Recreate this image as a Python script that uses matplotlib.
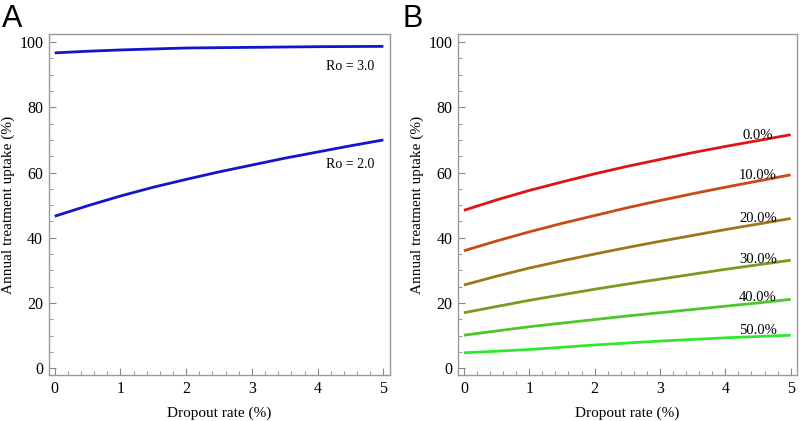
import matplotlib
matplotlib.use("Agg")
import matplotlib.pyplot as plt
from matplotlib.ticker import MultipleLocator

plt.rcParams['font.family'] = ['Liberation Serif', 'DejaVu Serif']

# ---- data ----
dropout = [0, 0.5, 1, 1.5, 2, 2.5, 3, 3.5, 4, 4.5, 5]
ro3 = [96.7, 97.2, 97.6, 97.9, 98.2, 98.3, 98.4, 98.5, 98.6, 98.65, 98.7]
ro2 = [46.6, 49.8, 52.8, 55.5, 57.9, 60.2, 62.3, 64.4, 66.3, 68.2, 70.0]
ro_labels = ["Ro = 3.0", "Ro = 2.0"]

series_B = {
    "0.0%": [48.4, 51.6, 54.5, 57.1, 59.6, 61.9, 64.0, 66.1, 68.0, 69.8, 71.6],
    "10.0%": [36.0, 39.0, 41.8, 44.4, 46.8, 49.2, 51.4, 53.5, 55.5, 57.4, 59.3],
    "20.0%": [25.5, 28.2, 30.7, 32.9, 35.0, 37.0, 38.9, 40.7, 42.5, 44.2, 45.9],
    "30.0%": [17.0, 18.9, 20.8, 22.5, 24.2, 25.8, 27.3, 28.8, 30.3, 31.7, 33.1],
    "40.0%": [10.1, 11.4, 12.7, 13.8, 14.9, 16.0, 17.0, 18.0, 19.0, 20.0, 21.1],
    "50.0%": [4.7, 5.2, 5.7, 6.4, 7.1, 7.7, 8.3, 8.8, 9.3, 9.7, 10.1],
}
colors_B = ['#e01414', '#c84a14', '#9c7818', '#789a1e', '#4cc82a', '#30e830']
xticks = [0, 1, 2, 3, 4, 5]
yticks = [0, 20, 40, 60, 80, 100]

fig = plt.figure(figsize=(8, 4.21), dpi=100)
axA = fig.add_axes([0.061, 0.1093, 0.4265, 0.81])
axB = fig.add_axes([0.5725, 0.1093, 0.424, 0.81])

def style(ax):
    ax.set_xlim(-0.09, 5.1)
    ax.set_ylim(-2.1, 102.5)
    ax.set_xticks(xticks)
    ax.set_yticks(yticks)
    ax.xaxis.set_minor_locator(MultipleLocator(0.2))
    ax.yaxis.set_minor_locator(MultipleLocator(5))
    for s in ax.spines.values():
        s.set_color('#999999')
        s.set_linewidth(1.0)
    ax.tick_params(which='both', direction='in', colors='#888888',
                   labelcolor='black', labelsize=11.5, top=False, right=False)
    ax.tick_params(which='major', length=5, width=0.8, pad=4)
    ax.tick_params(which='minor', length=3, width=0.6)
    ax.set_xlabel("Dropout rate (%)", fontsize=11, labelpad=7)
    ax.set_ylabel("Annual treatment uptake (%)", fontsize=11, labelpad=3)

style(axA)
style(axB)

axA.plot(dropout, ro3, color='#1414c8', lw=2.0, solid_capstyle='butt')
axA.plot(dropout, ro2, color='#1414c8', lw=2.0, solid_capstyle='butt')
axA.text(4.5, 92.4, ro_labels[0], ha='center', va='center', fontsize=10)
axA.text(4.5, 62.5, ro_labels[1], ha='center', va='center', fontsize=10)

for (lab, vals), c in zip(series_B.items(), colors_B):
    axB.plot(dropout, vals, color=c, lw=2.0, solid_capstyle='butt')
    axB.text(4.5, vals[9] + 1.7, lab, ha='center', va='center', fontsize=10.5)

fig.text(0.003, 0.99, "A", fontsize=22, family='Liberation Sans', va='top', ha='left')
fig.text(0.503, 0.99, "B", fontsize=22, family='Liberation Sans', va='top', ha='left')

fig.savefig("out.png", dpi=100)
